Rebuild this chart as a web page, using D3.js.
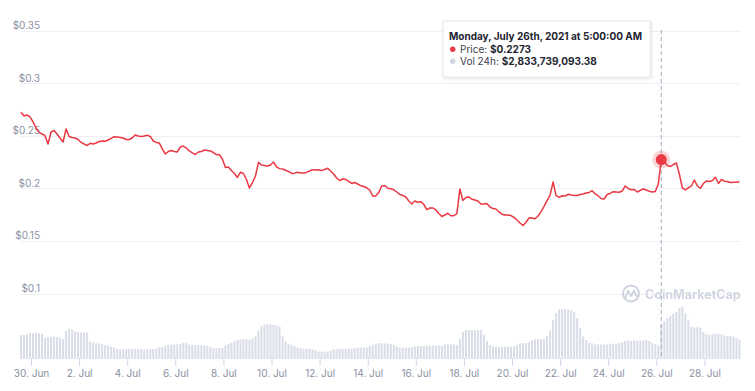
<!DOCTYPE html>
<html>
<head>
<meta charset="utf-8">
<script src="https://cdn.jsdelivr.net/npm/d3@7"></script>
<style>
  body { margin: 0; background: #fff; }
  svg { font-family: Inter, "Noto Sans", sans-serif; }
</style>
</head>
<body>
<svg width="755" height="391"></svg>
<script>
// 3-hourly points, first one at 29 Jun 2021 14:00
var startTime = Date.UTC(2021, 5, 29, 14);
var stepHours = 3;

var price = [0.2723,0.2688,0.2697,0.2678,0.2631,0.2573,0.2531,0.2516,0.2500,0.2421,
  0.2535,0.2550,0.2516,0.2478,0.2440,0.2564,0.2493,0.2483,0.2478,0.2464,
  0.2436,0.2421,0.2407,0.2428,0.2421,0.2431,0.2445,0.2450,0.2447,0.2459,
  0.2474,0.2491,0.2488,0.2483,0.2478,0.2464,0.2464,0.2478,0.2507,0.2497,
  0.2493,0.2497,0.2505,0.2493,0.2450,0.2436,0.2431,0.2374,0.2326,0.2350,
  0.2359,0.2350,0.2345,0.2393,0.2402,0.2383,0.2355,0.2336,0.2321,0.2345,
  0.2350,0.2364,0.2359,0.2355,0.2340,0.2321,0.2319,0.2279,0.2198,0.2203,
  0.2169,0.2141,0.2103,0.2152,0.2141,0.2084,0.2003,0.2055,0.2117,0.2247,
  0.2222,0.2217,0.2212,0.2222,0.2250,0.2203,0.2187,0.2184,0.2172,0.2160,
  0.2141,0.2144,0.2152,0.2146,0.2146,0.2151,0.2165,0.2177,0.2174,0.2176,
  0.2168,0.2179,0.2190,0.2165,0.2136,0.2098,0.2074,0.2088,0.2084,0.2065,
  0.2046,0.2055,0.2041,0.2025,0.2017,0.2005,0.1984,0.1927,0.1927,0.1960,
  0.2022,0.2027,0.2000,0.1995,0.1986,0.1965,0.1941,0.1932,0.1917,0.1879,
  0.1851,0.1879,0.1867,0.1873,0.1846,0.1798,0.1813,0.1813,0.1794,0.1760,
  0.1732,0.1746,0.1763,0.1739,0.1739,0.1760,0.1993,0.1884,0.1912,0.1917,
  0.1896,0.1889,0.1879,0.1851,0.1851,0.1855,0.1822,0.1807,0.1803,0.1775,
  0.1754,0.1746,0.1746,0.1741,0.1723,0.1699,0.1670,0.1646,0.1677,0.1719,
  0.1718,0.1710,0.1737,0.1779,0.1829,0.1882,0.1932,0.2060,0.1930,0.1914,
  0.1929,0.1927,0.1943,0.1936,0.1932,0.1931,0.1941,0.1946,0.1955,0.1961,
  0.1977,0.1946,0.1927,0.1903,0.1898,0.1941,0.1951,0.1968,0.1965,0.1962,
  0.1974,0.2022,0.1998,0.1986,0.1989,0.1965,0.1981,0.1993,0.1984,0.1971,
  0.1964,0.1969,0.2041,0.2273,0.2255,0.2217,0.2207,0.2226,0.2241,0.2136,
  0.2003,0.1984,0.2003,0.2022,0.2079,0.2022,0.2000,0.2046,0.2069,0.2065,
  0.2074,0.2105,0.2046,0.2084,0.2067,0.2065,0.2055,0.2058,0.2057,0.2063];

// 24h volume, billions of USD
var volume = [1.92,1.92,1.96,2.04,2.06,2.08,2.04,2.00,1.67,1.71,
  1.75,1.79,1.75,1.67,1.56,2.25,2.42,2.33,2.21,2.14,
  2.14,2.14,2.13,1.36,1.29,1.23,1.21,1.13,1.08,1.04,
  0.96,0.89,0.75,0.73,0.73,0.75,0.77,0.75,0.73,0.73,
  0.73,0.73,0.75,0.73,0.75,0.79,0.88,0.92,1.00,1.08,
  1.13,1.13,1.13,1.17,1.25,1.28,1.13,1.08,1.08,1.08,
  1.08,1.04,1.00,0.92,0.81,0.81,0.81,0.83,1.04,1.17,
  1.25,1.38,1.50,1.56,1.56,1.56,1.54,1.63,1.83,2.25,
  2.67,2.79,2.81,2.81,2.75,2.71,2.63,1.83,1.38,1.17,
  1.08,1.00,0.88,0.81,0.79,0.77,0.75,0.73,0.63,0.53,
  0.53,0.53,0.53,0.58,0.71,0.73,0.75,0.75,0.77,0.78,
  0.79,0.81,0.86,0.88,0.86,0.88,1.00,1.08,1.17,1.23,
  1.25,1.21,1.21,1.17,1.08,0.96,0.86,0.86,0.86,0.86,
  0.88,0.96,1.00,1.00,1.00,1.02,1.00,1.04,1.03,1.04,
  1.02,1.13,1.14,1.14,1.13,1.08,1.58,2.17,2.33,2.33,
  2.33,2.33,2.33,2.33,1.92,1.42,1.08,0.96,0.94,0.94,
  0.94,0.93,0.94,0.94,0.96,1.08,1.21,1.23,1.25,1.33,
  1.50,1.56,1.56,1.56,1.58,1.83,2.25,3.17,3.75,4.04,
  4.06,4.06,4.06,4.00,3.83,3.33,2.50,1.78,1.50,1.28,
  1.23,1.14,1.14,1.13,1.14,1.13,1.17,1.21,1.17,1.25,
  1.33,1.42,1.46,1.44,1.46,1.42,1.46,1.44,1.50,1.42,
  1.25,1.13,1.04,2.83,3.08,3.33,3.50,3.67,3.86,4.17,
  4.25,3.75,3.17,2.61,2.56,2.58,2.50,2.17,2.00,1.92,
  1.96,2.04,2.04,1.96,1.88,1.83,1.83,1.79,1.67,1.54];

var yTicks = [0.1, 0.15, 0.2, 0.25, 0.3, 0.35];
var xTicks = ["2021-06-30","2021-07-02","2021-07-04","2021-07-06","2021-07-08",
  "2021-07-10","2021-07-12","2021-07-14","2021-07-16","2021-07-18","2021-07-20",
  "2021-07-22","2021-07-24","2021-07-26","2021-07-28"];

var hoverIndex = 213;
var tipTitle = "Monday, July 26th, 2021 at 5:00:00 AM";
var tipPrice = "$0.2273";
var tipVol = "$2,833,739,093.38";

var red = "#ea3943";

var data = price.map(function(p, i) {
  return { date: new Date(startTime + i * stepHours * 3600000), price: p, vol: volume[i] };
});

var svg = d3.select("svg");

var x = d3.scaleUtc()
    .domain([new Date(Date.UTC(2021, 5, 30)), new Date(Date.UTC(2021, 6, 28))])
    .range([31, 704.4]);
var y = d3.scaleLinear().domain([0.1, 0.35]).range([293.5, 30.5]);
var yVol = d3.scaleLinear().domain([0, 5]).range([358, 298]);

// grid + y labels
var grid = svg.append("g");
grid.selectAll("line").data(yTicks).enter().append("line")
    .attr("x1", 20).attr("x2", 741)
    .attr("y1", function(d) { return Math.round(y(d)) + 0.5; })
    .attr("y2", function(d) { return Math.round(y(d)) + 0.5; })
    .attr("stroke", "#eff1f5");
grid.selectAll("text").data(yTicks).enter().append("text")
    .attr("x", 40).attr("y", function(d) { return y(d) - 1.5; })
    .attr("text-anchor", "end")
    .attr("font-size", 10).attr("fill", "#8a90a3")
    .text(function(d) { return "$" + d; });

// watermark
var wm = svg.append("g").attr("opacity", 0.9);
wm.append("circle").attr("cx", 631).attr("cy", 293.5).attr("r", 8)
    .attr("fill", "none").attr("stroke", "#c9cfdc").attr("stroke-width", 2);
wm.append("path")
    .attr("d", "M625.5,298 L628,290.5 L631,296 L634,290.5 Q636,297 638,296")
    .attr("fill", "none").attr("stroke", "#c9cfdc").attr("stroke-width", 1.8)
    .attr("stroke-linejoin", "round");
wm.append("text").attr("x", 645).attr("y", 298.5)
    .attr("font-size", 12.5).attr("font-weight", 700).attr("fill", "#cdd3df")
    .text("CoinMarketCap");

// volume bars
svg.append("g").selectAll("rect").data(data).enter().append("rect")
    .attr("x", function(d) { return x(d.date) - 1; })
    .attr("width", 2)
    .attr("y", function(d) { return yVol(d.vol); })
    .attr("height", function(d) { return 358 - yVol(d.vol); })
    .attr("fill", "#d9dde8");

svg.append("line").attr("x1", 20).attr("x2", 741).attr("y1", 358.5).attr("y2", 358.5)
    .attr("stroke", "#e3e7ef");

// x axis
var xAxis = d3.axisBottom(x)
    .tickValues(xTicks.map(function(s) { return new Date(s + "T00:00:00Z"); }))
    .tickFormat(d3.utcFormat("%-d. %b"))
    .tickSize(7).tickPadding(4);
var gx = svg.append("g").attr("transform", "translate(0,359)").call(xAxis);
gx.select(".domain").remove();
gx.selectAll(".tick line").attr("stroke", "#ccd6eb");
gx.selectAll(".tick text").attr("font-size", 10).attr("fill", "#8a90a3")
    .attr("font-family", "Inter, 'Noto Sans', sans-serif");

// hover guide
var hx = x(data[hoverIndex].date);
svg.append("line").attr("x1", hx).attr("x2", hx).attr("y1", 30).attr("y2", 358)
    .attr("stroke", "#a3abbd").attr("stroke-dasharray", "4,3");

// price line
var line = d3.line()
    .x(function(d) { return x(d.date); })
    .y(function(d) { return y(d.price); });
svg.append("path").datum(data).attr("d", line)
    .attr("fill", "none").attr("stroke", red).attr("stroke-width", 1.5)
    .attr("stroke-linejoin", "round");

// hover marker
var hy = y(data[hoverIndex].price);
svg.append("circle").attr("cx", hx).attr("cy", hy).attr("r", 9).attr("fill", red).attr("opacity", 0.22);
svg.append("circle").attr("cx", hx).attr("cy", hy).attr("r", 5.5).attr("fill", red);

// tooltip
var defs = svg.append("defs");
var f = defs.append("filter").attr("id", "shadow").attr("x", "-10%").attr("y", "-20%")
    .attr("width", "130%").attr("height", "150%");
f.append("feDropShadow").attr("dx", 1).attr("dy", 1).attr("stdDeviation", 1.5)
    .attr("flood-color", "#000").attr("flood-opacity", 0.12);

var tip = svg.append("g");
tip.append("rect").attr("x", 443).attr("y", 21).attr("width", 207).attr("height", 56)
    .attr("fill", "#fff").attr("stroke", "#e4e7ed").attr("filter", "url(#shadow)");
tip.append("text").attr("x", 449).attr("y", 40)
    .attr("font-size", 10).attr("font-weight", 700).attr("fill", "#222531")
    .text(tipTitle);
tip.append("circle").attr("cx", 452.7).attr("cy", 49.3).attr("r", 2.7).attr("fill", red);
var t1 = tip.append("text").attr("x", 460).attr("y", 53).attr("font-size", 10).attr("fill", "#3b3f4d");
t1.append("tspan").text("Price: ");
t1.append("tspan").attr("font-weight", 700).attr("fill", "#222531").text(tipPrice);
tip.append("circle").attr("cx", 452.7).attr("cy", 61.3).attr("r", 2.7).attr("fill", "#cfd5e3");
var t2 = tip.append("text").attr("x", 460).attr("y", 65).attr("font-size", 10).attr("fill", "#3b3f4d");
t2.append("tspan").text("Vol 24h: ");
t2.append("tspan").attr("font-weight", 700).attr("fill", "#222531").text(tipVol);
</script>
</body>
</html>
